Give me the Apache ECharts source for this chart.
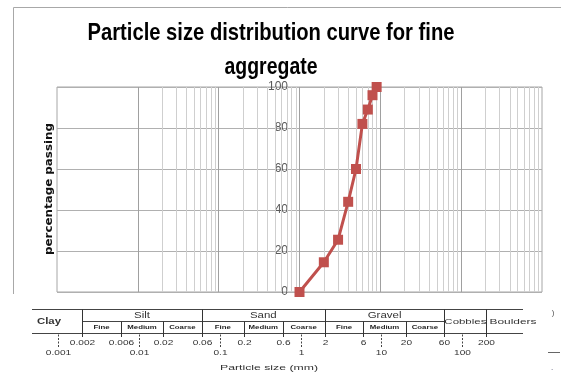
<!DOCTYPE html>
<html>
<head>
<meta charset="utf-8">
<script src="https://cdn.jsdelivr.net/npm/echarts@6/dist/echarts.min.js"></script>
<style>
  html, body { margin: 0; padding: 0; background: #fff; }
  #chart { width: 561px; height: 374px; }
</style>
</head>
<body>
<div id="chart"></div>
<script>
// grading curve (sieve size on log axis, % passing)
var sizes = [1, 2, 3, 4, 5, 6, 7, 8, 9];
var passing = [0, 14.5, 25.5, 44, 60, 82, 89, 96, 100];

// classification strip below the chart
var boundValues = [0.002, 0.006, 0.02, 0.06, 0.2, 0.6, 2, 6, 20, 60, 200];
var boundLabels = ['0.002', '0.006', '0.02', '0.06', '0.2', '0.6', '2', '6', '20', '60', '200'];
var mainBounds = [0.002, 0.06, 2, 60, 200];
var decadeValues = [0.001, 0.01, 0.1, 1, 10, 100];
var decadeLabels = ['0.001', '0.01', '0.1', '1', '10', '100'];
var groupNames = ['Silt', 'Sand', 'Gravel'];
var subNames = ['Fine', 'Medium', 'Coarse'];

var chart = echarts.init(document.getElementById('chart'));

// vertical log gridlines 1..9 per decade
var vLines = [];
for (var d = -3; d <= 2; d++) {
    for (var k = 1; k <= 9; k++) {
        if (d === -3 && k === 1) continue;
        var v = Number((k * Math.pow(10, d)).toPrecision(3));
        vLines.push({
            xAxis: v,
            lineStyle: { color: k === 1 ? '#a0a0a0' : '#cfcfcf', width: 1, type: 'solid' }
        });
    }
}

chart.setOption({
    animation: false,
    grid: {
        left: 57, top: 87, width: 485, height: 205,
        show: true, borderColor: '#a6a6a6', borderWidth: 1
    },
    xAxis: {
        type: 'log', logBase: 10, min: 0.001, max: 1000,
        axisLine: { show: false }, axisTick: { show: false },
        axisLabel: { show: false }, splitLine: { show: false }
    },
    yAxis: {
        type: 'value', min: 0, max: 100, interval: 20,
        axisLine: { show: false }, axisTick: { show: false },
        axisLabel: { margin: -231, color: '#595959', fontSize: 12, fontFamily: 'Liberation Sans' },
        splitLine: { lineStyle: { color: '#b0b0b0' } }
    },
    series: [
        {
            type: 'line', data: [[1, 0]], symbol: 'none', silent: true, z: 1,
            lineStyle: { opacity: 0 },
            markLine: { z: 1, symbol: ['none', 'none'], silent: true, label: { show: false }, data: vLines }
        },
        {
            type: 'line', z: 3,
            data: sizes.map(function (s, i) { return [s, passing[i]]; }),
            symbol: 'rect', symbolSize: 10,
            lineStyle: { color: '#c0504d', width: 3 },
            itemStyle: { color: '#c0504d' }
        }
    ]
});

// text helpers
var ctx = document.createElement('canvas').getContext('2d');
function fitScale(str, font, w) {
    ctx.font = font;
    return w / ctx.measureText(str).width;
}
function txt(str, x, y, size, opts) {
    opts = opts || {};
    var font = (opts.weight || 'normal') + ' ' + size + 'px ' + (opts.family || '"Liberation Sans"');
    return {
        type: 'text', x: x, y: y, silent: true,
        rotation: opts.rotation || 0,
        scaleX: opts.w ? fitScale(str, font, opts.w) : (opts.sx || 1.35),
        style: {
            text: str, font: font, fill: opts.color || '#222',
            textAlign: 'center', textVerticalAlign: 'middle'
        }
    };
}
function line(x1, y1, x2, y2, color, width, dash) {
    return {
        type: 'line', silent: true,
        shape: { x1: x1, y1: y1, x2: x2, y2: y2 },
        style: { stroke: color || '#333', lineWidth: width || 1, lineDash: dash || null }
    };
}
function px(v) { return chart.convertToPixel({ xAxisIndex: 0 }, v) + 1; }

var g = [];
// outer frame
g.push(line(13.5, 7.5, 561, 7.5, '#a8a8a8'));
g.push(line(13.5, 7.5, 13.5, 294, '#a8a8a8'));

// title (two lines)
g.push(txt('Particle size distribution curve for fine', 271, 33, 24, { weight: 'bold', w: 367, color: '#000' }));
g.push(txt('aggregate', 271, 67, 24, { weight: 'bold', w: 93, color: '#000' }));

// y axis name
g.push(txt('percentage passing', 49, 189, 10, { weight: 'bold', family: '"DejaVu Sans"', w: 132, rotation: Math.PI / 2, color: '#111' }));

// classification strip
var yTop = 309.5, yMid = 321.5, yBot = 333.5;
g.push(line(32, yTop, 523, yTop, '#444', 1.2));
g.push(line(px(0.002), yMid, px(60), yMid, '#444', 1));
g.push(line(32, yBot, 523, yBot, '#444', 1.2));
boundValues.forEach(function (v, i) {
    var x = Math.round(px(v)) + 0.5;
    var major = mainBounds.indexOf(v) >= 0;
    g.push(line(x, major ? yTop : yMid, x, 337, '#333', 1));
    g.push(txt(boundLabels[i], x, 342.5, 7.5, { color: '#333' }));
});
decadeValues.forEach(function (v, i) {
    var x = Math.round(px(v)) + 0.5;
    g.push(line(x, yBot + 1, x, 347, '#444', 1, [2, 1.5]));
    g.push(txt(decadeLabels[i], x, 352.5, 7.5, { color: '#333' }));
});
g.push(txt('Clay', 49, 322, 8.5, { weight: 'bold', w: 24, color: '#333' }));
groupNames.forEach(function (name, gi) {
    var a = px(boundValues[gi * 3]), b = px(boundValues[gi * 3 + 3]);
    g.push(txt(name, (a + b) / 2, 315.5, 8.5, { color: '#333' }));
    subNames.forEach(function (s, si) {
        var c = px(boundValues[gi * 3 + si]), e = px(boundValues[gi * 3 + si + 1]);
        g.push(txt(s, (c + e) / 2, 327.5, 6, { weight: 'bold', sx: 1.3, color: '#222' }));
    });
});
g.push(txt('Cobbles', (px(60) + px(200)) / 2, 321.5, 8, { w: 42, color: '#333' }));
g.push(txt('Boulders', 513, 321.5, 8, { w: 47, color: '#333' }));
g.push(txt('Particle size (mm)', 269, 368, 8, { w: 98, color: '#333' }));

// scan marks at right edge
g.push(txt(')', 553, 313, 8, { sx: 1, color: '#555' }));
g.push(line(548, 352.5, 560, 352.5, '#666', 1));
g.push(txt('.', 552, 368, 8, { sx: 1, color: '#446' }));

chart.setOption({ graphic: g });
</script>
</body>
</html>
